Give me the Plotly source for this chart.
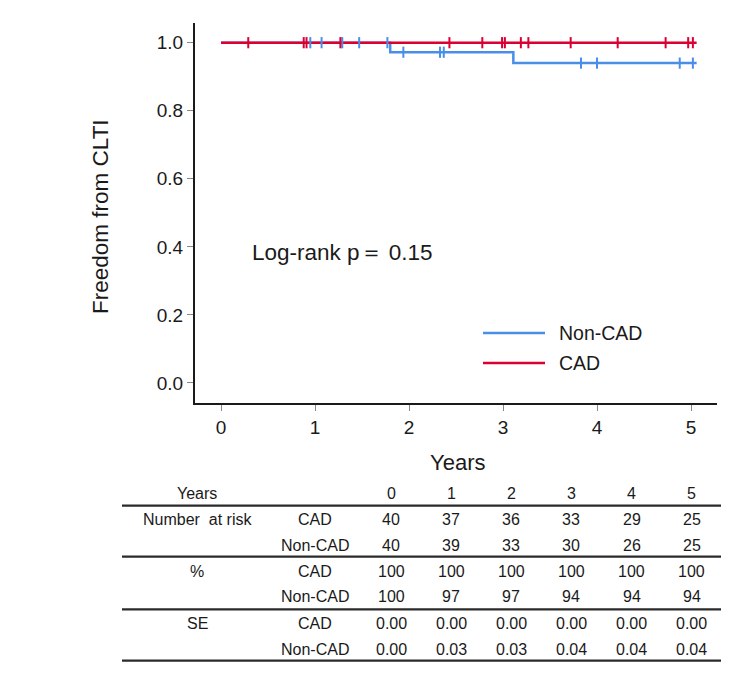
import numpy as np
import plotly.graph_objects as go

# ---------------- data ----------------
# Kaplan-Meier step curves (time in years, survival probability)
noncad_time = [0.0, 1.80, 3.11, 5.06]
noncad_surv = [1.0, 0.972, 0.940, 0.940]
cad_time = [0.0, 5.06]
cad_surv = [1.0, 1.0]

# censoring times
cad_censor = [0.29, 0.88, 0.91, 1.27, 2.43, 2.78, 2.99, 3.02, 3.19, 3.27,
              3.72, 4.22, 4.73, 4.97, 5.02]
noncad_censor = [0.95, 1.07, 1.29, 1.47, 1.77, 1.94, 2.33, 2.37, 3.83, 4.00,
                 4.88, 5.02]

# risk table
table_years = [0, 1, 2, 3, 4, 5]
nar_cad = [40, 37, 36, 33, 29, 25]
nar_noncad = [40, 39, 33, 30, 26, 25]
pct_cad = [100, 100, 100, 100, 100, 100]
pct_noncad = [100, 97, 97, 94, 94, 94]
se_cad = ["0.00", "0.00", "0.00", "0.00", "0.00", "0.00"]
se_noncad = ["0.00", "0.03", "0.03", "0.04", "0.04", "0.04"]

y_ticks = [0.0, 0.2, 0.4, 0.6, 0.8, 1.0]
x_ticks = [0, 1, 2, 3, 4, 5]

pvalue_text = "Log-rank p\uff1d 0.15"

# ---------------- styling ----------------
BLUE = "#4A8FE7"
RED = "#DA0032"
FONT = "Arial, 'Liberation Sans', sans-serif"
TXT = "#1a1a1a"

OFF = 8  # browser default body margin
W, H = 750 - OFF, 679 - OFF
L, R, T, B = 195 - OFF, 33, 23 - OFF, 276
PW, PH = W - L - R, H - T - B


def px(x):
    return (x - OFF - L) / PW


def py(y):
    return (H - B - (y - OFF)) / PH


def surv_at(times, surv, t):
    idx = np.searchsorted(np.asarray(times), np.asarray(t), side="right") - 1
    return np.asarray(surv)[idx]


fig = go.Figure()

fig.add_trace(go.Scatter(x=noncad_time, y=noncad_surv, mode="lines",
                         line=dict(color=BLUE, width=2.5, shape="hv"),
                         name="Non-CAD", showlegend=False, hoverinfo="skip"))
fig.add_trace(go.Scatter(x=cad_time, y=cad_surv, mode="lines",
                         line=dict(color=RED, width=2.5, shape="hv"),
                         name="CAD", showlegend=False, hoverinfo="skip"))
fig.add_trace(go.Scatter(x=noncad_censor,
                         y=surv_at(noncad_time, noncad_surv, noncad_censor),
                         mode="markers",
                         marker=dict(symbol="line-ns", size=8,
                                     line=dict(color=BLUE, width=2)),
                         showlegend=False, hoverinfo="skip"))
fig.add_trace(go.Scatter(x=cad_censor,
                         y=surv_at(cad_time, cad_surv, cad_censor),
                         mode="markers",
                         marker=dict(symbol="line-ns", size=8,
                                     line=dict(color=RED, width=2)),
                         showlegend=False, hoverinfo="skip"))

annotations = []
shapes = []


def text(x, y, s, size, anchor="center", angle=0):
    annotations.append(dict(x=px(x), y=py(y), xref="paper", yref="paper",
                            text=str(s), showarrow=False, xanchor=anchor,
                            yanchor="middle", textangle=angle,
                            font=dict(family=FONT, size=size, color=TXT)))


# axis titles
text(457, 462, "Years", 22)
text(100, 217, "Freedom from CLTI", 22.5, angle=-90)
# p-value
text(250, 252, pvalue_text, 22.5, anchor="left")

# legend (manual)
for name, col, yy in [("Non-CAD", BLUE, 333), ("CAD", RED, 363)]:
    shapes.append(dict(type="line", xref="paper", yref="paper",
                       x0=px(483), x1=px(545), y0=py(yy), y1=py(yy),
                       line=dict(color=col, width=2.5)))
    text(557, yy, name, 19.5, anchor="left")

# ---------------- risk table ----------------
col_x = [391 + 60.15 * i for i in range(len(table_years))]
row_y = [493.3, 519.3, 545.0, 571.0, 596.7, 623.3, 649.0]
line_y = [505.7, 556.7, 609.3, 660.7]

text(197, row_y[0], "Years", 16)
for cx, v in zip(col_x, table_years):
    text(cx, row_y[0], v, 16)

rows = [("Number&nbsp; at risk", "CAD", nar_cad), ("", "Non-CAD", nar_noncad),
        ("%", "CAD", pct_cad), ("", "Non-CAD", pct_noncad),
        ("SE", "CAD", se_cad), ("", "Non-CAD", se_noncad)]
for i, (lab, grp, vals) in enumerate(rows):
    yy = row_y[i + 1]
    if lab:
        text(197, yy, lab, 16)
    text(315, yy, grp, 16)
    for cx, v in zip(col_x, vals):
        text(cx, yy, v, 16)

for ly in line_y:
    shapes.append(dict(type="line", xref="paper", yref="paper",
                       x0=px(122), x1=px(721), y0=py(ly), y1=py(ly),
                       line=dict(color="#2a2a2a", width=2.2)))

axis_common = dict(showline=True, linecolor="#1a1a1a", linewidth=2,
                   ticks="outside", ticklen=6, tickwidth=1, tickcolor="#888888",
                   showgrid=False, zeroline=False,
                   tickfont=dict(family=FONT, size=19, color=TXT))

fig.update_layout(
    width=W, height=H,
    margin=dict(l=L, r=R, t=T, b=B, pad=0),
    paper_bgcolor="white", plot_bgcolor="white",
    xaxis=dict(range=[-0.2766, 5.2766], tickvals=x_ticks, **axis_common),
    yaxis=dict(range=[-0.0588, 1.0579], tickvals=y_ticks, tickformat=".1f",
               **axis_common),
    annotations=annotations, shapes=shapes,
    showlegend=False,
)

fig.write_html("out.html")
